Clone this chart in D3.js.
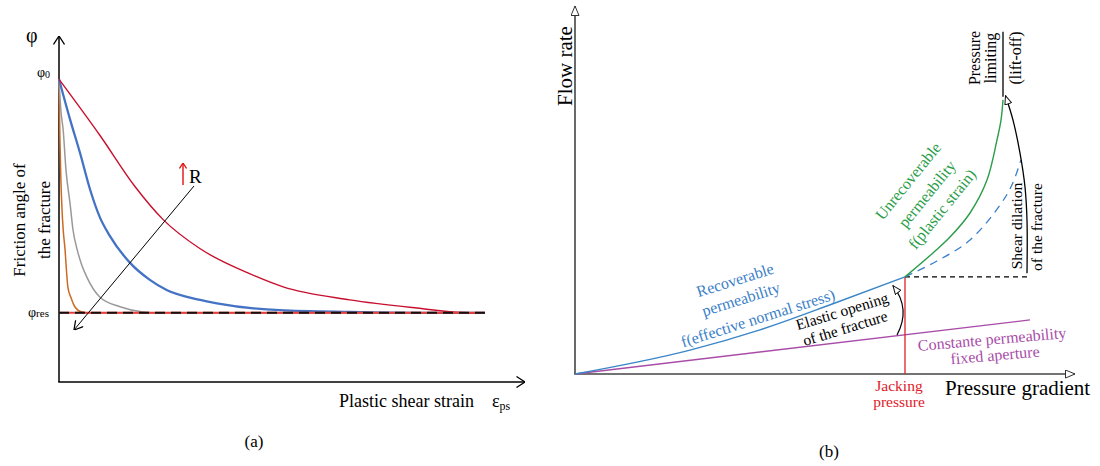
<!DOCTYPE html>
<html>
<head>
<meta charset="utf-8">
<script src="https://cdn.jsdelivr.net/npm/d3@7"></script>
<style>
  body { margin: 0; background: #fff; }
</style>
</head>
<body>
<svg id="fig" width="1100" height="466"></svg>
<script>
// ---------- Panel (a): friction angle softening with plastic shear strain ----------
const phi0 = 35;          // initial friction angle
const phiRes = 8;         // residual friction angle
const strainEnd = 9.14;   // end of plotted strain range

const strainOrange = [0, 0.02, 0.04, 0.06, 0.09, 0.13, 0.16, 0.19, 0.26, 0.34, 0.49, 0.67, 9.14];
const phiOrange    = [35, 28, 23.4, 20.5, 17.6, 15.3, 12.9, 11, 9.7, 8.7, 8.1, 8, 8];

const strainGray = [0, 0.04, 0.09, 0.15, 0.24, 0.30, 0.39, 0.49, 0.60, 0.88, 1.31, 1.80, 2.17, 9.14];
const phiGray    = [35, 31.4, 29.1, 24.5, 20.5, 17.6, 15.3, 13.5, 12.1, 9.8, 8.7, 8.1, 8, 8];

const strainBlue = [0, 0.24, 0.45, 0.67, 0.88, 1.09, 1.52, 1.95, 2.32, 3.03, 3.39, 4.74, 6.24, 7.75, 9.14];
const phiBlue    = [35, 30.3, 26.5, 22.2, 19.0, 16.9, 13.8, 11.8, 10.6, 9.5, 9.1, 8.3, 8.1, 8.0, 8.0];

const strainRed = [0, 0.88, 1.63, 2.23, 3.03, 4.10, 4.81, 6.24, 7.68, 8.76, 9.14];
const phiRed    = [35, 28.5, 22.6, 18.8, 15.4, 12.5, 11.0, 9.5, 8.55, 8.0, 8.0];

// ---------- Panel (b): flow rate vs pressure gradient ----------
const jackingGrad = 66;
const gradRecov = [0, 23, 37, 52, 66];
const flowRecov = [0, 6.5, 12, 19.3, 26.4];
const gradConst = [0, 91];
const flowConst = [0, 14.7];
const gradPlastic = [66, 71.6, 75, 79, 82.4, 84.4, 85.2, 85.6];
const flowPlastic = [26.4, 32.9, 37.2, 43.75, 52.7, 63.6, 69, 74.5];
const gradDilation = [66, 72.4, 79, 85, 87.4, 89.2];
const flowDilation = [26.4, 30.7, 36.4, 45.9, 51.4, 58.2];
const gradShearArrow = [90.4, 90.4, 90, 89, 87.6, 86.1];
const flowShearArrow = [27.4, 41.8, 50.8, 60, 69, 75.6];

const SERIF = '"Liberation Serif", "Times New Roman", serif';
const svg = d3.select("#fig");
const defs = svg.append("defs");

function chevron(id, color, w, h) {
  defs.append("marker").attr("id", id)
    .attr("viewBox", `0 0 ${w} ${h}`).attr("refX", w).attr("refY", h / 2)
    .attr("markerWidth", w).attr("markerHeight", h)
    .attr("markerUnits", "userSpaceOnUse").attr("orient", "auto")
    .append("path").attr("d", `M0.5,0.5 L${w},${h / 2} L0.5,${h - 0.5}`)
    .attr("fill", "none").attr("stroke", color).attr("stroke-width", 1.3);
}
function triangle(id, color, w, h) {
  defs.append("marker").attr("id", id)
    .attr("viewBox", `0 0 ${w + 1} ${h + 1}`).attr("refX", w).attr("refY", (h + 1) / 2)
    .attr("markerWidth", w + 1).attr("markerHeight", h + 1)
    .attr("markerUnits", "userSpaceOnUse").attr("orient", "auto")
    .append("path").attr("d", `M0.5,0.5 L${w},${(h + 1) / 2} L0.5,${h + 0.5} Z`)
    .attr("fill", "#fff").attr("stroke", color).attr("stroke-width", 1);
}
chevron("chevA", "#000", 9, 12);
chevron("chevSmall", "#000", 9, 11);
chevron("chevRed", "#e01010", 6, 8);
triangle("triB", "#333", 10, 8);
triangle("triSmall", "#111", 9, 7);

function label(g, x, y, size, str, color) {
  return g.append("text").attr("x", x).attr("y", y).attr("font-size", size)
    .attr("fill", color || "#000").style("font-family", SERIF).text(str);
}

// ===== Panel (a) =====
const xA = d3.scaleLinear().domain([0, 10]).range([59, 525]);
const yA = d3.scaleLinear().domain([0, 40]).range([382, 36]);
const gA = svg.append("g");

const lineA = d3.line().x(d => xA(d[0])).y(d => yA(d[1])).curve(d3.curveMonotoneX);

// axes with arrows
gA.append("line").attr("x1", xA(0)).attr("y1", yA(0)).attr("x2", xA(0)).attr("y2", yA(40))
  .attr("stroke", "#000").attr("stroke-width", 1.5).attr("marker-end", "url(#chevA)");
gA.append("line").attr("x1", xA(0) - 0.7).attr("y1", yA(0)).attr("x2", xA(10)).attr("y2", yA(0))
  .attr("stroke", "#000").attr("stroke-width", 1.5).attr("marker-end", "url(#chevA)");

const seriesA = [
  { x: strainOrange, y: phiOrange, color: "#cc6a22", w: 1.5 },
  { x: strainGray,   y: phiGray,   color: "#999999", w: 1.5 },
  { x: strainBlue,   y: phiBlue,   color: "#4472c4", w: 2.3 },
  { x: strainRed,    y: phiRed,    color: "#c8102e", w: 1.4 }
];
seriesA.forEach(s => {
  gA.append("path").datum(d3.zip(s.x, s.y)).attr("d", lineA)
    .attr("fill", "none").attr("stroke", s.color).attr("stroke-width", s.w);
});
// residual friction angle line
gA.append("line").attr("x1", xA(0)).attr("x2", xA(strainEnd)).attr("y1", yA(phiRes)).attr("y2", yA(phiRes))
  .attr("stroke", "#e8403a").attr("stroke-width", 2);
gA.append("line").attr("x1", xA(0)).attr("x2", xA(strainEnd)).attr("y1", yA(phiRes)).attr("y2", yA(phiRes))
  .attr("stroke", "#111").attr("stroke-width", 2).attr("stroke-dasharray", "10,6");

// direction of increasing R
gA.append("line").attr("x1", 194).attr("y1", 186).attr("x2", 74).attr("y2", 330)
  .attr("stroke", "#000").attr("stroke-width", 1).attr("marker-end", "url(#chevSmall)");
gA.append("line").attr("x1", 183).attr("y1", 185).attr("x2", 183).attr("y2", 163)
  .attr("stroke", "#e01010").attr("stroke-width", 1.4).attr("marker-end", "url(#chevRed)");
label(gA, 189, 183, 19, "R");

// labels
label(gA, 26, 42, 20, "φ");
label(gA, 37, yA(phi0) - 2, 14, "φ")
  .append("tspan").attr("font-size", 10).attr("dy", 1).text("0");
label(gA, 28, yA(phiRes) + 4, 14, "φ")
  .append("tspan").attr("font-size", 11).text("res");
label(gA, 0, 0, 17, "Friction angle of")
  .attr("x", null).attr("y", null)
  .attr("transform", "translate(19,220) rotate(-90)")
  .attr("text-anchor", "middle").attr("dominant-baseline", "central");
label(gA, 0, 0, 17, "the fracture")
  .attr("x", null).attr("y", null)
  .attr("transform", "translate(44,220) rotate(-90)")
  .attr("text-anchor", "middle").attr("dominant-baseline", "central");
label(gA, 339, 407, 18, "Plastic shear strain");
label(gA, 492, 407, 18, "ε")
  .append("tspan").attr("font-size", 12).attr("dy", 3).text("ps");
label(gA, 254, 447, 17, "(a)").attr("text-anchor", "middle");

// ===== Panel (b) =====
const xB = d3.scaleLinear().domain([0, 100]).range([575, 1075]);
const yB = d3.scaleLinear().domain([0, 100]).range([374, 6]);
const gB = svg.append("g");
const lineB = d3.line().x(d => xB(d[0])).y(d => yB(d[1])).curve(d3.curveMonotoneX);
const smoothB = d3.line().x(d => xB(d[0])).y(d => yB(d[1])).curve(d3.curveCatmullRom.alpha(0.5));

gB.append("line").attr("x1", xB(0)).attr("y1", yB(0)).attr("x2", xB(0)).attr("y2", yB(100))
  .attr("stroke", "#444").attr("stroke-width", 1.6).attr("marker-end", "url(#triB)");
gB.append("line").attr("x1", xB(0) - 0.8).attr("y1", yB(0)).attr("x2", xB(100)).attr("y2", yB(0))
  .attr("stroke", "#444").attr("stroke-width", 1.6).attr("marker-end", "url(#triB)");

// constant permeability
gB.append("path").datum(d3.zip(gradConst, flowConst)).attr("d", lineB)
  .attr("fill", "none").attr("stroke", "#a84ca8").attr("stroke-width", 1.3);
// jacking pressure
const recovTop = flowRecov[flowRecov.length - 1];
gB.append("line").attr("x1", xB(jackingGrad)).attr("x2", xB(jackingGrad))
  .attr("y1", yB(0)).attr("y2", yB(recovTop))
  .attr("stroke", "#e0202a").attr("stroke-width", 1.3);
// threshold dashed line
gB.append("line").attr("x1", xB(jackingGrad)).attr("x2", xB(gradShearArrow[0]))
  .attr("y1", yB(recovTop)).attr("y2", yB(recovTop))
  .attr("stroke", "#000").attr("stroke-width", 1.2).attr("stroke-dasharray", "5,4");
// recoverable permeability
gB.append("path").datum(d3.zip(gradRecov, flowRecov)).attr("d", lineB)
  .attr("fill", "none").attr("stroke", "#3a86c8").attr("stroke-width", 1.4);
// shear dilation (dashed)
gB.append("path").datum(d3.zip(gradDilation, flowDilation)).attr("d", smoothB)
  .attr("fill", "none").attr("stroke", "#3a7fc8").attr("stroke-width", 1.3).attr("stroke-dasharray", "8,6");
// unrecoverable permeability
gB.append("path").datum(d3.zip(gradPlastic, flowPlastic)).attr("d", smoothB)
  .attr("fill", "none").attr("stroke", "#2a9d48").attr("stroke-width", 1.4);
// shear dilation arrow
gB.append("path").datum(d3.zip(gradShearArrow, flowShearArrow)).attr("d", smoothB)
  .attr("fill", "none").attr("stroke", "#000").attr("stroke-width", 1.3).attr("marker-end", "url(#triSmall)");
// lift-off bar
const topPlastic = flowPlastic[flowPlastic.length - 1];
const topGrad = gradPlastic[gradPlastic.length - 1];
gB.append("line").attr("x1", xB(topGrad)).attr("x2", xB(topGrad))
  .attr("y1", yB(topPlastic) - 3).attr("y2", yB(93))
  .attr("stroke", "#000").attr("stroke-width", 1.3);
// elastic opening arrow
const xo = xB(jackingGrad), yo1 = yB(10.6);
gB.append("path")
  .attr("d", `M${xo - 8},${yo1} Q${xo + 6},${yo1 - 26} ${xo - 12},${yB(24)}`)
  .attr("fill", "none").attr("stroke", "#000").attr("stroke-width", 1.2).attr("marker-end", "url(#triSmall)");

function rotText(x, y, ang, size, color, str) {
  gB.append("text").attr("transform", `translate(${x},${y}) rotate(${ang})`)
    .attr("text-anchor", "middle").attr("dominant-baseline", "central")
    .attr("font-size", size).attr("fill", color).style("font-family", SERIF).text(str);
}
rotText(565, 66, -90, 21, "#000", "Flow rate");
label(gB, 945, 395, 21, "Pressure gradient");
label(gB, xB(jackingGrad) - 6, 391, 15.5, "Jacking", "#e0202a").attr("text-anchor", "middle");
label(gB, xB(jackingGrad) - 6, 407, 15.5, "pressure", "#e0202a").attr("text-anchor", "middle");

rotText(735, 280, -17.5, 16, "#3a80c8", "Recoverable");
rotText(741, 299, -17.5, 16, "#3a80c8", "permeability");
rotText(758, 318, -17.5, 16, "#3a80c8", "f(effective normal stress)");

rotText(842, 311, -17, 15.5, "#000", "Elastic opening");
rotText(845, 328, -17, 15.5, "#000", "of the fracture");

rotText(908, 181, -51, 16, "#2a9d48", "Unrecoverable");
rotText(927, 194, -51, 16, "#2a9d48", "permeability");
rotText(942, 209, -51, 16, "#2a9d48", "f(plastic strain)");

rotText(992, 339, -5, 16, "#a84ca8", "Constante permeability");
rotText(995, 355, -5, 16, "#a84ca8", "fixed aperture");

rotText(1016, 226, -90, 15.5, "#000", "Shear dilation");
rotText(1036, 227, -90, 15.5, "#000", "of the fracture");

rotText(974, 58, -90, 16, "#000", "Pressure");
rotText(990, 58, -90, 16, "#000", "limiting");
rotText(1015, 58, -90, 16, "#000", "(lift-off)");

label(gB, 829, 457, 17, "(b)").attr("text-anchor", "middle");
</script>
</body>
</html>
